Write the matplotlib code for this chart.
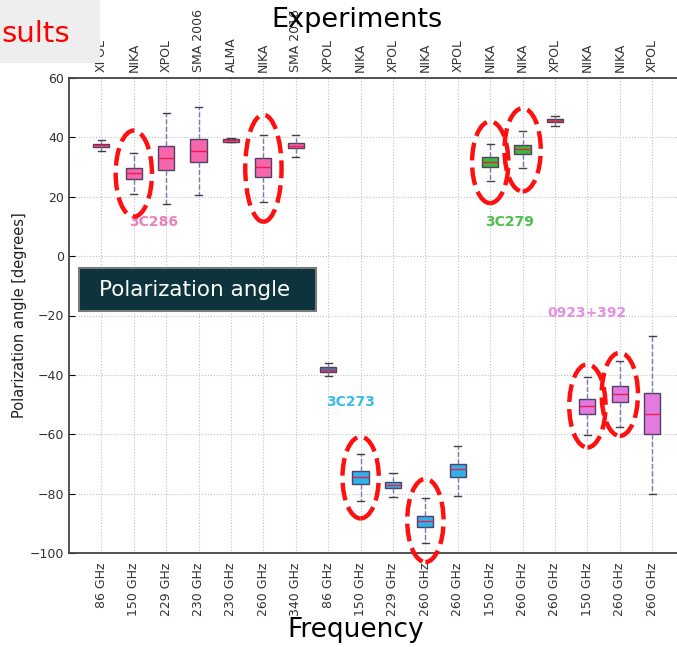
import matplotlib
matplotlib.use('Agg')
import matplotlib.pyplot as plt
from matplotlib.patches import Ellipse, Rectangle

# one entry per measurement, left to right
experiments = ['XPOL', 'NIKA', 'XPOL', 'SMA 2006', 'ALMA', 'NIKA', 'SMA 2016',
               'XPOL', 'NIKA', 'XPOL', 'NIKA', 'XPOL',
               'NIKA', 'NIKA', 'XPOL',
               'NIKA', 'NIKA', 'XPOL']
frequencies = ['86 GHz', '150 GHz', '229 GHz', '230 GHz', '230 GHz', '260 GHz', '340 GHz',
               '86 GHz', '150 GHz', '229 GHz', '260 GHz', '260 GHz',
               '150 GHz', '260 GHz', '260 GHz',
               '150 GHz', '260 GHz', '260 GHz']

# polarization angle statistics [deg]
med = [37.3, 27.9, 33.1, 35.5, 39.0, 29.9, 37.2,
       -38.2, -74.4, -77.1, -89.3, -71.7,
       31.6, 36.0, 45.6,
       -50.6, -46.6, -53.2]
q1 = [36.7, 26.1, 28.9, 31.7, 38.6, 26.7, 36.3,
      -38.9, -76.6, -78.2, -91.3, -74.4,
      30.0, 34.3, 45.1,
      -53.2, -49.3, -59.8]
q3 = [37.9, 29.8, 37.0, 39.5, 39.4, 32.9, 38.1,
      -37.5, -72.5, -76.1, -87.4, -69.9,
      33.3, 37.3, 46.1,
      -48.0, -43.7, -46.0]
whislo = [35.4, 20.9, 17.4, 20.6, 38.3, 18.3, 33.4,
          -40.5, -82.5, -81.3, -96.6, -80.8,
          25.3, 29.6, 43.8,
          -60.1, -57.7, -80.0]
whishi = [39.1, 34.7, 48.1, 50.4, 39.9, 40.9, 40.9,
          -35.9, -66.7, -73.0, -81.5, -63.9,
          37.9, 42.0, 47.2,
          -40.8, -35.4, -27.0]

sources = ['3C286', '3C273', '3C279', '0923+392']

box_colors = ['#f765ac'] * 7 + ['#4a7fa8'] + ['#2fb2ea'] * 4 + \
             ['#3cb83c', '#3cb83c', '#6e7a3c'] + ['#e27ae2'] * 3
label_colors = {'3C286': '#e880b8', '3C273': '#3cbaea',
                '3C279': '#4cc04c', '0923+392': '#e48ee4'}
label_pos = {'3C286': (2.6, 11.5), '3C273': (8.7, -49.0),
             '3C279': (13.6, 11.5), '0923+392': (16.0, -19.0)}
# heights of the red rings drawn round the NIKA points
ring_height = {1: 29.0, 5: 36.0, 8: 27.5, 10: 28.0,
               12: 27.5, 13: 28.0, 15: 28.0, 16: 28.0}

W, H = 677, 647
fig = plt.figure(figsize=(W / 100, H / 100), dpi=100)
# right spine runs past the edge of the slide
ax = fig.add_axes([69 / W, 1 - 553 / H, 615.6 / W, 475 / H])

positions = list(range(1, len(med) + 1))
stats = [dict(med=m, q1=a, q3=b, whislo=lo, whishi=hi, fliers=[])
         for m, a, b, lo, hi in zip(med, q1, q3, whislo, whishi)]
bp = ax.bxp(stats, positions=positions, widths=0.5, capwidths=0.22,
            patch_artist=True,
            boxprops=dict(edgecolor='#4d4060', linewidth=1.0),
            whiskerprops=dict(color='#7878b8', linestyle='--', linewidth=1.0),
            capprops=dict(color='#404048', linewidth=1.0),
            medianprops=dict(color='#e8204c', linewidth=1.0),
            manage_ticks=False)
for patch, c in zip(bp['boxes'], box_colors):
    patch.set_facecolor(c)

for name in sources:
    x, y = label_pos[name]
    ax.text(x, y, name, color=label_colors[name], fontsize=10,
            fontweight='bold', ha='center', va='center')

for i, h in ring_height.items():
    yc = (whislo[i] + whishi[i]) / 2
    ax.add_patch(Ellipse((positions[i], yc), 1.12, h, fill=False,
                         edgecolor='#ff1010', linewidth=3.2,
                         linestyle=(0, (4, 1.6)), clip_on=False, zorder=5))

ax.set_xlim(0, 19)
ax.set_ylim(-100, 60)
ax.set_yticks(range(-100, 61, 20))
ax.set_xticks(positions)
ax.set_xticklabels(frequencies, rotation=90, fontsize=9, color='#333333')
ax.tick_params(axis='x', direction='in', length=0, pad=7)
ax.tick_params(axis='y', direction='in', length=4, labelsize=9,
               labelcolor='#333333')
ax.grid(True, linestyle=':', color='#c0c0c0', linewidth=0.8)
ax.set_axisbelow(True)
for side in ['left', 'bottom', 'top']:
    ax.spines[side].set_color('#444444')
    ax.spines[side].set_linewidth(1.3)
ax.spines['right'].set_visible(False)
ax.set_ylabel('Polarization angle [degrees]', fontsize=10.5, color='#222222',
              labelpad=2)

top = ax.secondary_xaxis('top')
top.set_xticks(positions)
top.set_xticklabels(experiments, rotation=90, fontsize=9, color='#333333')
top.tick_params(direction='in', length=0, pad=4)
top.spines['top'].set_visible(False)

fig.text(357 / W, 1 - 20 / H, 'Experiments', fontsize=19.5, ha='center',
         va='center', color='black', zorder=6)
fig.text(356 / W, 1 - 630 / H, 'Frequency', fontsize=19, ha='center',
         va='center', color='black', zorder=6)

# slide title corner and caption box
fig.add_artist(Rectangle((0, 1 - 63 / H), 100 / W, 63 / H,
                         transform=fig.transFigure, facecolor='#eeeeee',
                         edgecolor='none', zorder=5))
fig.text(1 / W, 1 - 34 / H, 'sults', fontsize=21, color='#ff0000',
         ha='left', va='center', zorder=6)
fig.add_artist(Rectangle((79 / W, 1 - 311 / H), 237 / W, 43 / H,
                         transform=fig.transFigure, facecolor='#0d333c',
                         edgecolor='#7a7a7a', linewidth=1.5, zorder=5))
fig.text(195 / W, 1 - 290 / H, 'Polarization angle', fontsize=15.5,
         color='white', ha='center', va='center', zorder=6)

fig.savefig('out.png', dpi=100)
